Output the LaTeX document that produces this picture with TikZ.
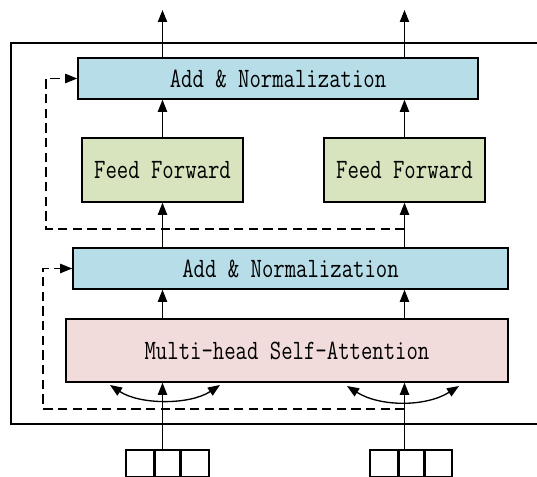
\documentclass[tikz,border=0pt]{standalone}
\usepackage{fontspec}
\setmonofont[FakeStretch=0.79]{Latin Modern Mono}
\usetikzlibrary{arrows.meta}

\definecolor{normblue}{RGB}{183,222,232}
\definecolor{ffgreen}{RGB}{215,228,189}
\definecolor{attpink}{RGB}{242,220,219}

\tikzset{every picture/.style={line width=0.75pt}}
\tikzset{
  layer/.style={draw, line width=1.2pt, inner sep=0pt, font=\ttfamily\fontsize{21}{21}\selectfont},
  cell/.style={draw, line width=1.2pt, inner sep=0pt, minimum height=20.25pt, anchor=north west},
  flow/.style={-{Triangle[length=9pt,width=7pt]}, line width=0.75pt},
  skip/.style={-{Triangle[length=9pt,width=7pt]}, dashed, dash pattern={on 7pt off 4pt}, line width=1pt},
  mix/.style={{Triangle[length=9pt,width=7pt]}-{Triangle[length=9pt,width=7pt]}, line width=1pt}
}

\begin{document}
\begin{tikzpicture}[x=0.75pt,y=0.75pt,yscale=-1,xscale=1]
\useasboundingbox (0,0) rectangle (537,477);

% Outer block
\draw [line width=1.2pt] (545,43) -- (11,43) -- (11,424) -- (545,424) ;

% Layers
\node [layer, fill=normblue, minimum width=300pt, minimum height=30.75pt] (topnorm) at (278,78.5) {Add \& Normalization};
\node [layer, fill=ffgreen, minimum width=120.75pt, minimum height=48pt] (ffl) at (162.5,170) {Feed Forward};
\node [layer, fill=ffgreen, minimum width=120.75pt, minimum height=48pt] (ffr) at (404.5,170) {Feed Forward};
\node [layer, fill=normblue, minimum width=326.25pt, minimum height=30.75pt] (lownorm) at (290.5,268.5) {Add \& Normalization};
\node [layer, fill=attpink, minimum width=331.5pt, minimum height=47.25pt] (mhsa) at (287,350.5) {Multi-head Self-Attention};

% Input tokens
\node [cell, minimum width=21pt] (inl1) at (125,449) {};
\node [cell, minimum width=18pt] (inl2) at (inl1.north east) {};
\node [cell, minimum width=21pt] (inl3) at (inl2.north east) {};
\node [cell, minimum width=21pt] (inr1) at (369,449) {};
\node [cell, minimum width=18pt] (inr2) at (inr1.north east) {};
\node [cell, minimum width=20.25pt] (inr3) at (inr2.north east) {};

% Outputs
\coordinate (outl) at (162.5,10) ;
\coordinate (outr) at (404.5,10) ;

% Straight arrows
\draw [flow] (topnorm.north -| ffl) -- (outl) ;
\draw [flow] (topnorm.north -| ffr) -- (outr) ;
\draw [flow] (ffl.north) -- (ffl |- topnorm.south) ;
\draw [flow] (ffr.north) -- (ffr |- topnorm.south) ;
\draw [flow] (ffl |- lownorm.north) -- (ffl.south) ;
\draw [flow] (ffr |- lownorm.north) -- (ffr.south) ;
\draw [flow] (ffl |- mhsa.north) -- (ffl |- lownorm.south) ;
\draw [flow] (ffr |- mhsa.north) -- (ffr |- lownorm.south) ;
\draw [flow] (ffl |- inl2.north) -- (ffl |- mhsa.south) ;
\draw [flow] (ffr |- inr2.north) -- (ffr |- mhsa.south) ;

% Residual connections
\coordinate (resa) at (404.5,229) ;
\coordinate (resb) at (404.5,409) ;
\draw [skip] (resa) -- (46,229) -- (46,78.5) -- (topnorm.west) ;
\draw [skip] (resb) -- (43,409) -- (43,268.5) -- (lownorm.west) ;

% Attention mixing
\coordinate (mla) at (110,385) ;
\coordinate (mlb) at (220,385) ;
\coordinate (mra) at (347,386) ;
\coordinate (mrb) at (459,386) ;
\draw [mix] (mla) .. controls (140,405) and (190,405) .. (mlb) ;
\draw [mix] (mra) .. controls (380,407) and (426,407) .. (mrb) ;

\end{tikzpicture}
\end{document}
